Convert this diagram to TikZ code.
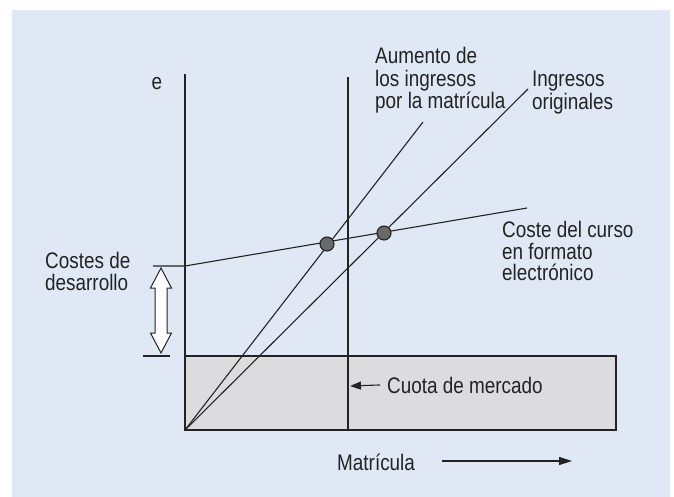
\documentclass[tikz,border=0pt]{standalone}
\usepackage{fontspec}
\setmainfont{Liberation Sans}[FakeStretch=0.84]
\usetikzlibrary{arrows.meta}
\definecolor{panelblue}{RGB}{224,232,246}
\definecolor{sharegray}{RGB}{220,220,222}
\definecolor{inkgray}{RGB}{35,35,35}
\definecolor{dotgray}{RGB}{105,105,105}

\begin{document}
\begin{tikzpicture}[
        x=1pt, y=-1pt,
        label/.style={inner sep=0pt, align=left, text=inkgray,
                     font=\fontsize{22.5}{22.5}\selectfont},
        line/.style={draw=inkgray, line width=1.1pt},
        arrow/.style={line, -{Triangle[length=11pt, width=8pt]}},
        dot/.style={circle, draw=inkgray, fill=dotgray, line width=1.1pt,
                    minimum size=14pt, inner sep=0pt}
    ]
        % Background
        \useasboundingbox (0,0) rectangle (674,497);
        \fill[white] (0,0) rectangle (674,497);
        \fill[panelblue] (12,10) rectangle (670,497);
        
        % Market share box
        \draw[line, fill=sharegray, line width=1.4pt] (185,356) rectangle (616,430);
        
        % Key points
        \coordinate (origin) at (185,430);
        \coordinate (ytop) at (185,74);
        \coordinate (sharetop) at (348,77);
        \coordinate (sharebot) at (348,430);
        \coordinate (sharehit) at (350,386);
        \coordinate (devstart) at (153,266);
        \coordinate (devcost) at (185,266);
        \coordinate (costend) at (527,208);
        \coordinate (raisedend) at (423,122);
        \coordinate (origend) at (528,89);
        \coordinate (baseleft) at (143,356);
        \coordinate (baseright) at (170,356);
        \coordinate (matstart) at (442,461);
        \coordinate (matend) at (572,461);
        
        % Axes and market share
        \draw[line] (ytop) -- (origin);
        \draw[line] (sharetop) -- (sharebot);
        
        % Revenue and cost lines
        \draw[line] (origin) -- (raisedend);
        \draw[line] (origin) -- (origend);
        \draw[line] (devstart) -- (devcost) -- (costend);
        \draw[line] (baseleft) -- (baseright);
        
        % Break-even points
        \node[dot] (raisedpt) at (327,244) {};
        \node[dot] (origpt) at (384,233) {};
        
        % Development cost arrow
        \draw[line, fill=white, line width=1pt] (161,268) -- (171.5,288) -- (167,288)
            -- (167,333) -- (171.5,333) -- (161,353) -- (150.5,333) -- (155,333)
            -- (155,288) -- (150.5,288) -- cycle;
        
        % Labels
        \node[label, anchor=base] (yaxis) at (157,90) {e};
        \node[label, anchor=north west] (raised) at (375,47) {Aumento de\\los ingresos\\por la matrícula};
        \node[label, anchor=north west] (orig) at (532,71) {Ingresos\\originales};
        \node[label, anchor=north west, font=\fontsize{22.5}{21.7}\selectfont] (cost) at (502,221) {Coste del curso\\en formato\\electrónico};
        \node[label, anchor=north west, font=\fontsize{22.5}{21.7}\selectfont] (dev) at (45,252) {Costes de\\desarrollo};
        \node[label, anchor=base west] (cuota) at (387,393) {Cuota de mercado};
        \node[label, anchor=base west] (matricula) at (337,470) {Matrícula};
        
        % Pointer arrows
        \draw[arrow] ([xshift=-7pt]cuota.west) -- (sharehit);
        \draw[arrow, -{Triangle[length=13pt, width=8pt]}] (matstart) -- (matend);
    \end{tikzpicture}
\end{document}
